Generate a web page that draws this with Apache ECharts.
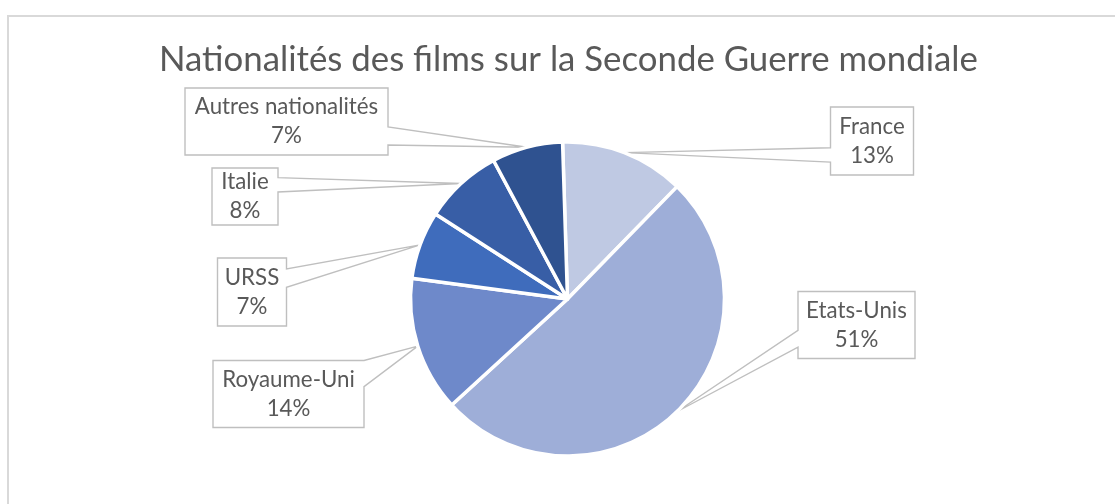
<!DOCTYPE html>
<html><head><meta charset="utf-8">
<script src="https://cdn.jsdelivr.net/npm/echarts@6/dist/echarts.min.js"></script>
<style>
html,body{margin:0;padding:0;background:#fff;overflow:hidden;}
#c{position:absolute;left:0;top:0;width:1115px;height:504px;}
#frame{position:absolute;left:7px;top:15px;width:1200px;height:600px;border-left:2px solid #d9d9d9;border-top:2px solid #d9d9d9;pointer-events:none;}
</style></head><body>
<div id="c"></div><div id="frame"></div>
<script>
const titleText = 'Nationalités des films sur la Seconde Guerre mondiale';
const categories = ['France', 'Etats-Unis', 'Royaume-Uni', 'URSS', 'Italie', 'Autres nationalités'];
const values = [12.8, 50.9, 13.9, 7.0, 8.1, 7.3];
const colors = ['#BFC9E3', '#9EAED8', '#6E89CA', '#3F6CBC', '#385EA6', '#2F5290'];

// callout boxes (layout only): centre, size, side facing the pie, wedge base fractions
const callouts = [
  {cx: 872,   cy: 141,   w: 83,  h: 68, side: 'left',  f: [0.60, 0.81]},
  {cx: 856.5, cy: 325,   w: 117, h: 67, side: 'left',  f: [0.58, 0.83]},
  {cx: 288.5, cy: 394,   w: 151, h: 67, side: 'right', f: [0.00, 0.39]},
  {cx: 252,   cy: 292,   w: 69,  h: 68, side: 'right', f: [0.16, 0.43]},
  {cx: 245,   cy: 196.5, w: 66,  h: 57, side: 'right', f: [0.17, 0.42]},
  {cx: 286.5, cy: 121.5, w: 203, h: 67, side: 'right', f: [0.58, 0.85]}
];
const PIE_CENTER = [567.5, 299];
const PIE_R = 157;
const START = 91.8;

function fallbackAnchor(i) {
  const total = values.reduce((a, b) => a + b, 0);
  let acc = 0;
  for (let k = 0; k < i; k++) acc += values[k];
  const mid = (START - (acc + values[i] / 2) / total * 360) * Math.PI / 180;
  return [PIE_CENTER[0] + PIE_R * Math.cos(mid), PIE_CENTER[1] - PIE_R * Math.sin(mid)];
}

const chart = echarts.init(document.getElementById('c'), null, {renderer: 'canvas'});
chart.setOption({
  backgroundColor: 'transparent',
  animation: false,
  title: {
    text: titleText,
    left: 159,
    top: 42,
    padding: 0,
    textStyle: {fontFamily: 'Lato', fontSize: 34.8, fontWeight: 'normal', color: '#595959'}
  },
  series: [{
    type: 'pie',
    center: PIE_CENTER,
    radius: PIE_R,
    startAngle: START,
    clockwise: true,
    avoidLabelOverlap: false,
    percentPrecision: 0,
    data: categories.map((name, i) => ({
      name: name,
      value: values[i],
      itemStyle: {color: colors[i]},
      label: {width: callouts[i].w, padding: [Math.max(0, (callouts[i].h - 58) / 2), 0]}
    })),
    itemStyle: {borderColor: '#ffffff', borderWidth: 3.5},
    label: {
      show: true,
      position: 'outside',
      formatter: '{b}\n{d}%',
      color: '#595959',
      fontFamily: 'Lato',
      fontSize: 22.3,
      lineHeight: 29,
      align: 'center'
    },
    labelLine: {show: true, lineStyle: {color: '#bfbfbf', width: 1.4}},
    labelLayout: function (params) {
      const i = params.dataIndex;
      const c = callouts[i];
      const x0 = c.cx - c.w / 2, x1 = c.cx + c.w / 2;
      const y0 = c.cy - c.h / 2, y1 = c.cy + c.h / 2;
      const anchor = (params.labelLinePoints && params.labelLinePoints[0]) ? params.labelLinePoints[0].slice() : fallbackAnchor(i);
      const ya = y0 + c.f[0] * c.h, yb = y0 + c.f[1] * c.h;
      let pts;
      if (c.side === 'right') {
        pts = [anchor, [x1, ya], [x1, y0], [x0, y0], [x0, y1], [x1, y1], [x1, yb], anchor];
      } else {
        pts = [anchor, [x0, ya], [x0, y0], [x1, y0], [x1, y1], [x0, y1], [x0, yb], anchor];
      }
      return {x: c.cx, y: c.cy, align: 'center', verticalAlign: 'middle', labelLinePoints: pts};
    }
  }]
});
</script>
</body></html>
